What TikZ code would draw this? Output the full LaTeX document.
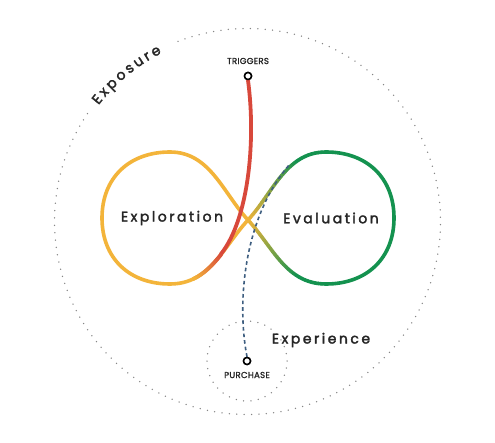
\documentclass[tikz,border=0pt]{standalone}
\usepackage{fontspec}
\setmainfont{Poppins}
\newfontfamily\lblfont{Poppins}[LetterSpace=18, FakeBold=2.2]
\newfontfamily\tinyfont{Poppins}[LetterSpace=3, FakeBold=1.6]
\newfontfamily\arcfont{Poppins}[FakeBold=2.2]
\usetikzlibrary{decorations.text}
\definecolor{loopO}{HTML}{F3B43A}
\definecolor{loopG}{HTML}{14924F}
\definecolor{trigR}{HTML}{D8483B}
\definecolor{purB}{HTML}{3E5E80}
\definecolor{txt}{HTML}{262626}
\definecolor{dotc}{HTML}{858585}
\def\gradrate{1.4}
% #1 style, #2-#5 bezier points, #6 start colour, #7 end colour, #8 t start, #9 t end
\newcommand\gradcurve[9]{%
  \foreach \k in {0,...,29}{%
    \pgfmathsetmacro\ta{#8+(#9-#8)*\k/30}%
    \pgfmathsetmacro\tb{#8+(#9-#8)*(\k+1)/30}%
    \pgfmathsetmacro\mix{min(100,100*(\k+0.5)/30*\gradrate)}%
    \path #2 .. controls #3 and #4 .. #5 coordinate[pos=\ta] (ga) coordinate[pos=\tb] (gb);%
    \draw[#1,color=#7!\mix!#6] (ga) -- (gb);}}
\begin{document}
\begin{tikzpicture}[x=1pt,y=-1pt,
  dotline/.style={draw=dotc,line width=1.5pt,line cap=round,dash pattern=on 0pt off 7.4pt},
  loopline/.style={line width=3.6pt,line cap=round},
  redline/.style={line width=3.8pt,line cap=round},
  dashline/.style={draw=purB,line width=1.6pt,dash pattern=on 3.6pt off 3pt},
  endpt/.style={circle,draw=black,fill=white,line width=1.5pt,minimum size=7pt,inner sep=0pt},
  biglbl/.style={font=\lblfont\fontsize{14}{14}\selectfont,text=txt,inner sep=0pt},
  smalllbl/.style={font=\tinyfont\fontsize{8.6}{8.6}\selectfont,text=txt,inner sep=0pt}]
\useasboundingbox (0,0) rectangle (495,443);
\fill[white] (0,0) rectangle (495,443);
% points
\coordinate (c) at (247.5,221.5);
\coordinate (C) at (248,220);
\coordinate (LT) at (170,152);
\coordinate (LL) at (102,218);
\coordinate (LB) at (170,284);
\coordinate (RT) at (326,152);
\coordinate (RR) at (394,218);
\coordinate (RB) at (326,284);
\coordinate (pc) at (247,361);
% dotted circles
\draw[dotline] (c) ++(146:193pt) arc[start angle=146,end angle=473,radius=193pt];
\draw[dotline] (pc) circle[radius=40pt];
\path[decorate,decoration={text along path,
   text={|\arcfont\fontsize{14}{14}\selectfont\color{txt}|Exposure},
   text align=fit to path,raise=-4pt}]
   (c) ++(142:193pt) arc[start angle=142,end angle=117,radius=193pt];
% infinity: lower strand first
\draw[loopline,loopO] (LB) .. controls (210,284) and (223,247) .. (C);
\gradcurve{loopline}{(C)}{(273,193)}{(286,152)}{(RT)}{loopO}{loopG}{0}{1}
\draw[loopline,loopO] (LT) .. controls (129,152) and (102,178) .. (LL)
   .. controls (102,258) and (129,284) .. (LB);
\draw[loopline,loopG] (RT) .. controls (367,152) and (394,178) .. (RR)
   .. controls (394,258) and (367,284) .. (RB);
\draw[loopline,loopO] (LT) .. controls (210,152) and (223,193) .. (C);
\gradcurve{loopline}{(C)}{(273,247)}{(286,284)}{(RB)}{loopO}{loopG}{0}{1}
% red trigger path
\node[endpt] (trig) at (248,76) {};
\node[smalllbl] (trigl) at (248,61) {TRIGGERS};
\coordinate (rm) at (221,254);
\draw[redline,trigR] (trig.south) .. controls (256,140) and (248.9,218.6) .. (rm);
\def\gradrate{1.0}
\gradcurve{redline}{(LB)}{(210,284)}{(223,247)}{(C)}{trigR}{loopO}{0.6}{0.22}
\node[endpt] at (trig) {};
% purchase dashed path
\node[endpt] (pur) at (247,361) {};
\node[smalllbl] (purl) at (247,375) {PURCHASE};
\draw[dashline] (pur.north) .. controls (236,300) and (245,215) .. (290,164);
\node[endpt] at (pur) {};
% labels
\node[biglbl] (expl) at (172,218) {Exploration};
\node[biglbl] (eval) at (331,218) {Evaluation};
\node[biglbl] (expe) at (321,340) {Experience};
\end{tikzpicture}
\end{document}
